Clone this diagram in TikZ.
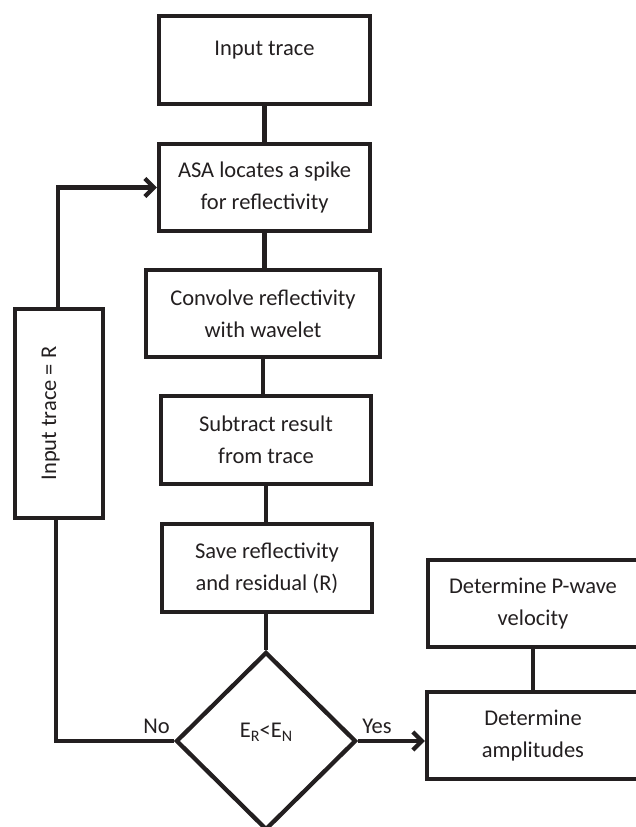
\documentclass[tikz,border=0pt]{standalone}
\usepackage{fontspec}
\setmainfont{Carlito}
\usetikzlibrary{arrows.meta,shapes.geometric}
\definecolor{ink}{RGB}{35,31,32}
\newcommand{\mysub}[1]{\raisebox{-0.22em}{\fontsize{16}{16}\selectfont #1}}
\begin{document}
\begin{tikzpicture}[x=1pt,y=-1pt,
  every node/.style={text=ink, font=\fontsize{22.5}{32}\selectfont},
  box/.style={draw=ink, line width=4.3pt, rectangle, inner sep=0pt, align=center,
    minimum width=211pt, minimum height=88pt},
  dia/.style={draw=ink, line width=4.3pt, diamond, aspect=1, inner sep=0pt,
    minimum width=180pt, minimum height=178pt, text height=16pt, text depth=24pt},
  conn/.style={draw=ink, line width=4.3pt},
  arr/.style={conn, -{Straight Barb[length=9pt,width=18pt]}},
  lab/.style={inner sep=0pt}]
\useasboundingbox (0,0) rectangle (636,827);
\clip (0,0) rectangle (636,827);

\node[box, text height=16pt, text depth=26pt] (in) at (264.5,60) {Input trace};
\node[box, minimum height=87pt] (asa) at (264.5,187.5) {ASA locates a spike\\for reflectivity};
\node[box, minimum width=234pt, minimum height=87pt] (conv) at (263,313.5) {Convolve reflectivity\\with wavelet};
\node[box, minimum width=210pt] (sub) at (266,440) {Subtract result\\from trace};
\node[box, minimum width=210pt] (save) at (267,568) {Save reflectivity\\and residual (R)};
\node[dia] (dec) at (266,741) {E\mysub{R}<E\mysub{N}};
\node[box, rotate=90, minimum width=209pt, minimum height=88pt, text height=16pt, text depth=22pt] (loop) at (59,413.5) {Input trace = R};
\node[box, minimum width=210pt, minimum height=87pt] (pw) at (533,603.5) {Determine P-wave\\velocity};
\node[box, minimum width=212pt, minimum height=87pt] (amp) at (533,735.5) {Determine\\amplitudes};

\coordinate (lt) at ([xshift=-1pt]loop.east);
\coordinate (lb) at ([xshift=-3pt]loop.west);

\draw[conn] (in.south) -- (in.south |- asa.north);
\draw[conn] (asa.south) -- (asa.south |- conv.north);
\draw[conn] (conv.south) -- (conv.south |- sub.north);
\draw[conn] (sub.south) -- (sub.south |- save.north);
\draw[conn] (dec.north |- save.south) -- (dec.north);
\draw[conn] (dec.west) -- (lb |- dec.west) -- (lb);
\draw[arr] (lt) -- (lt |- asa.west) -- (asa.west);
\draw[arr] (dec.east) -- (dec.east -| amp.west);
\draw[conn] (pw.south) -- (amp.north);

\node[lab, anchor=base east] (no) at ([xshift=-4pt,yshift=8pt]dec.west) {No};
\node[lab, anchor=base west] (yes) at ([xshift=4pt,yshift=8pt]dec.east) {Yes};
\end{tikzpicture}
\end{document}
